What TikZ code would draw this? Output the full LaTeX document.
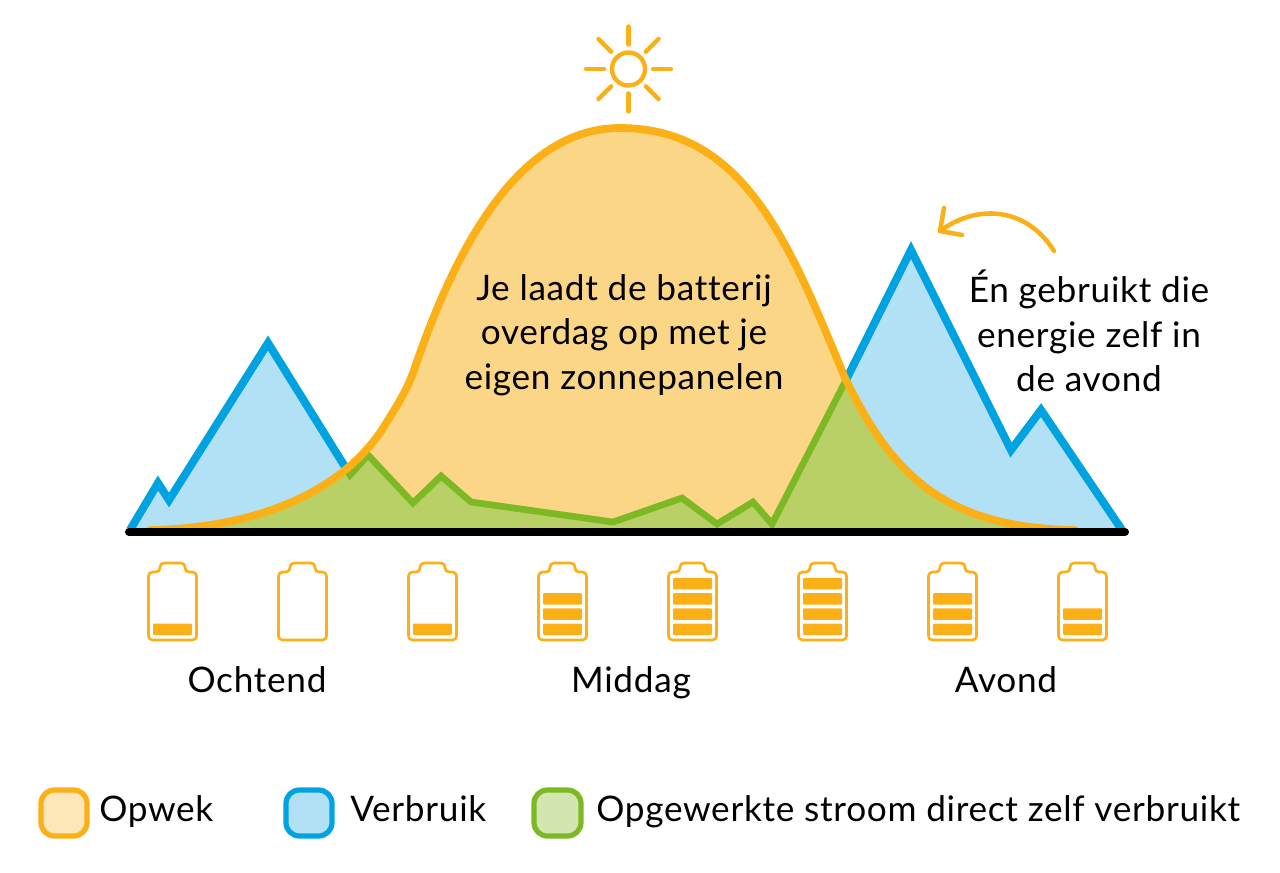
\documentclass[tikz,border=0pt]{standalone}
\usepackage{fontspec}
\setmainfont{Lato}[LetterSpace=2,Ligatures=NoCommon]
\definecolor{opwek}{HTML}{FBB017}
\definecolor{opwekfill}{HTML}{FCD687}
\definecolor{opweklight}{HTML}{FDE6B8}
\definecolor{verbruik}{HTML}{00A3E0}
\definecolor{verbruikfill}{HTML}{B2E1F6}
\definecolor{direct}{HTML}{7CB925}
\definecolor{directfill}{HTML}{B9D066}
\definecolor{directlight}{HTML}{D3E6B1}
\tikzset{
  curveline/.style={line width=6pt,line join=miter},
  legendbox/.style={line width=3.9pt,rounded corners=10pt},
  bigtext/.style={font=\fontsize{26.4}{33.4}\selectfont,align=center,inner sep=0pt},
  sunline/.style={draw=opwek,line width=3.3pt,line cap=round},
  batline/.style={draw=opwek,line width=2pt,rounded corners=3pt},
  batbar/.style={fill=opwek,rounded corners=0.8pt}
}
\def\opwekcurve{(150,530) .. controls (260,528) and (345,490) .. (385,425) .. controls (396,407) and (406,392) .. (413,373) .. controls (448,270) and (510,128) .. (620,128) .. controls (745,128) and (790,245) .. (845,378) .. controls (890,470) and (940,528) .. (1075,530)}
\begin{document}
\begin{tikzpicture}[x=0.75pt,y=-0.75pt]
  \useasboundingbox (0,0) rectangle (1280,872);
  % verbruik
  \fill [verbruikfill] (130,530) -- (158,483) -- (169,500) -- (268,343) -- (348,472) -- (845,382) -- (911,250) -- (1011,450) -- (1041,410) -- (1122,530) -- cycle;
  \draw [curveline,verbruik] (130,530) -- (158,483) -- (169,500) -- (268,343) -- (352,478);
  \draw [curveline,verbruik] (840,392) -- (911,250) -- (1011,450) -- (1041,410) -- (1122,530);
  % opwek
  \fill [opwekfill] \opwekcurve -- cycle;
  % direct verbruikt
  \begin{scope}
    \clip \opwekcurve -- cycle;
    \fill [directfill] (140,532) -- (140,430) -- (346,430) -- (350,475) -- (368,455) -- (413,503) -- (441,476) -- (471,502) -- (613,522) -- (682,498) -- (717,524) -- (753,502) -- (772,524) -- (845,382) -- (1100,382) -- (1100,532) -- cycle;
  \end{scope}
  \draw [curveline,direct,line width=5pt] (344,466) -- (350,475) -- (368,455) -- (413,503) -- (441,476) -- (471,502) -- (613,522) -- (682,498) -- (717,524) -- (753,502) -- (772,524) -- (845,382);
  \draw [curveline,opwek,line width=5.8pt,line cap=round] \opwekcurve;
  \draw [line width=6pt,line cap=round] (129,532) -- (1125,532);
  % zon
  \draw [sunline] (628.5,69) circle (16.5);
  \foreach \a in {0,45,...,315}
    \draw [sunline] (628.5,69) ++(\a:24.5) -- ++(\a:18);
  % pijl
  \coordinate (arrowstart) at (1054,251);
  \coordinate (arrowtip) at (940,231);
  \draw [draw=opwek,line width=3.4pt,line cap=round] (arrowstart) .. controls (1025,205) and (975,205) .. (arrowtip);
  \draw [draw=opwek,line width=3.4pt,line cap=round,line join=round] (944,208) -- (arrowtip) -- (962,235);
  % batterijen
  \foreach \bx/\bn in {172.5/1,302.5/0,432.5/1,562.5/3,692.5/4,822.5/4,952.5/3,1082.5/2} {
    \draw [batline] (\bx-24,640) -- (\bx-24,572) -- (\bx-12.5,572) -- (\bx-12.5,563) -- (\bx+12.5,563) -- (\bx+12.5,572) -- (\bx+24,572) -- (\bx+24,640) -- cycle;
    \foreach \k in {1,2,3,4} {
      \ifnum\k>\bn\else
        \fill [batbar] (\bx-19.5,635-15.2*\k+15.2) rectangle (\bx+19.5,623.5-15.2*\k+15.2);
      \fi
    }
  }
  % teksten
  \node [bigtext] (laden) at (624,335) {Je laadt de batterij\\overdag op met je\\eigen zonnepanelen};
  \node [bigtext] (avondtekst) at (1089,331) {Én gebruikt die\\energie zelf in\\de avond};
  \node [bigtext,anchor=base] (ochtend) at (257,692) {Ochtend};
  \node [bigtext,anchor=base] (middag) at (631,692) {Middag};
  \node [bigtext,anchor=base] (avond) at (1006,692) {Avond};
  % legenda
  \draw [legendbox,draw=opwek,fill=opweklight] (41,790) rectangle (87,836);
  \draw [legendbox,draw=verbruik,fill=verbruikfill] (286,790) rectangle (332,836);
  \draw [legendbox,draw=direct,fill=directlight] (534,790) rectangle (581,836);
  \node [bigtext,anchor=base west] (opweklabel) at (99,821) {Opwek};
  \node [bigtext,anchor=base west] (verbruiklabel) at (350,821) {Verbruik};
  \node [bigtext,anchor=base west] (directlabel) at (596,821) {Opgewerkte stroom direct zelf verbruikt};
\end{tikzpicture}
\end{document}
